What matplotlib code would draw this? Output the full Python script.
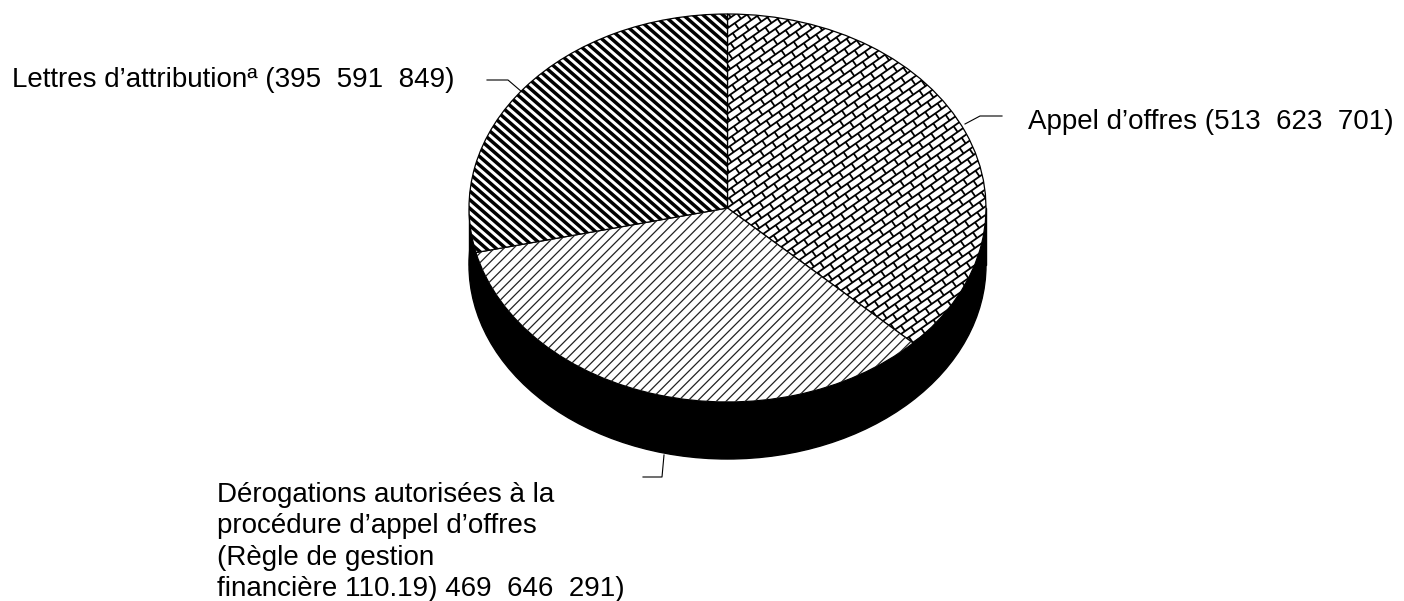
import numpy as np
import matplotlib
matplotlib.use('Agg')
import matplotlib.pyplot as plt
from matplotlib.collections import LineCollection
from matplotlib.patches import Ellipse, Rectangle

plt.rcParams['font.family'] = ['Liberation Sans', 'DejaVu Sans']

W, H = 1404, 601

# data
categories = ['Appel d\u2019offres', 'Dérogations', 'Lettres d\u2019attribution']
values = [513623701, 469646291, 395591849]

label_left = 'Lettres d\u2019attribution\u00aa (395  591  849)'
label_right = 'Appel d\u2019offres (513  623  701)'
label_bottom = ['Dérogations autorisées à la',
                'procédure d\u2019appel d\u2019offres',
                '(Règle de gestion',
                'financière 110.19) 469  646  291)']

fig = plt.figure(figsize=(W / 100, H / 100), dpi=100, facecolor='white')

# disque : ellipse 469-986 en x, 14-402 en y, epaisseur jusqu'a 459
depth = 57 / 194
margin = 4 / 194
ax_pie = fig.add_axes([469 / W, 1 - 463 / H, 517 / W, 449 / H])
ax_pie.add_patch(Ellipse((0, -depth), 2, 2, fc='black', ec='black', lw=1, zorder=0))
ax_pie.add_patch(Rectangle((-1, -depth), 2, depth, fc='black', ec='black', lw=1, zorder=0))
wedges, _ = ax_pie.pie(values, startangle=90, counterclock=False, colors=['white'] * 3,
                       wedgeprops={'edgecolor': 'black', 'linewidth': 0.9, 'zorder': 2})
ax_pie.set_aspect('auto')
ax_pie.set_xlim(-1, 1)
ax_pie.set_ylim(-1 - depth - margin, 1)
for p in ax_pie.patches:
    p.set_clip_on(False)

# calque en pixels pour les hachures, les filets et les textes
ax = fig.add_axes([0, 0, 1, 1], facecolor='none')
ax.set_xlim(0, W)
ax.set_ylim(H, 0)
ax.axis('off')


def stripes(angle, spacing):
    # droites paralleles couvrant le disque
    u = np.array([np.cos(np.radians(angle)), -np.sin(np.radians(angle))])
    n = np.array([-u[1], u[0]])
    c = np.array([727, 208])
    return [[c + k * spacing * n - 400 * u, c + k * spacing * n + 400 * u]
            for k in range(-int(400 / spacing), int(400 / spacing) + 1)]


def bricks(angle, spacing, period):
    # rangees + petits joints decales
    u = np.array([np.cos(np.radians(angle)), -np.sin(np.radians(angle))])
    n = np.array([-u[1], u[0]])
    c = np.array([727, 208])
    segs = stripes(angle, spacing)
    rows = int(400 / spacing)
    for k in range(-rows, rows + 1):
        for j in range(-40, 41):
            p = c + k * spacing * n + (j + 0.5 * (k % 2)) * period * u
            segs.append([p, p + spacing * n])
    return segs


hatch_appel = LineCollection(bricks(35, 7.0, 15), colors='black', linewidths=1.3)
hatch_derog = LineCollection(stripes(45, 6.8), colors='#222222', linewidths=0.9)
hatch_lettres = LineCollection(stripes(-41, 6.5), colors='black', linewidths=2.5)
for coll, wedge in zip([hatch_appel, hatch_derog, hatch_lettres], wedges):
    ax.add_collection(coll)
    coll.set_clip_path(wedge)

# filets
ax.plot([487, 508, 522], [80, 80, 92], color='black', lw=0.8)
ax.plot([965, 980, 1002], [124, 116, 116], color='black', lw=0.8)
ax.plot([664, 662, 643], [455, 477, 477], color='black', lw=0.8)

# textes
ax.text(12, 87, label_left, fontsize=20, va='baseline', ha='left')
ax.text(1028, 129, label_right, fontsize=20, va='baseline', ha='left')
for line, y in zip(label_bottom, [502, 533, 565, 596]):
    ax.text(217, y, line, fontsize=20, va='baseline', ha='left')

fig.savefig('out.png', dpi=100, facecolor='white')
